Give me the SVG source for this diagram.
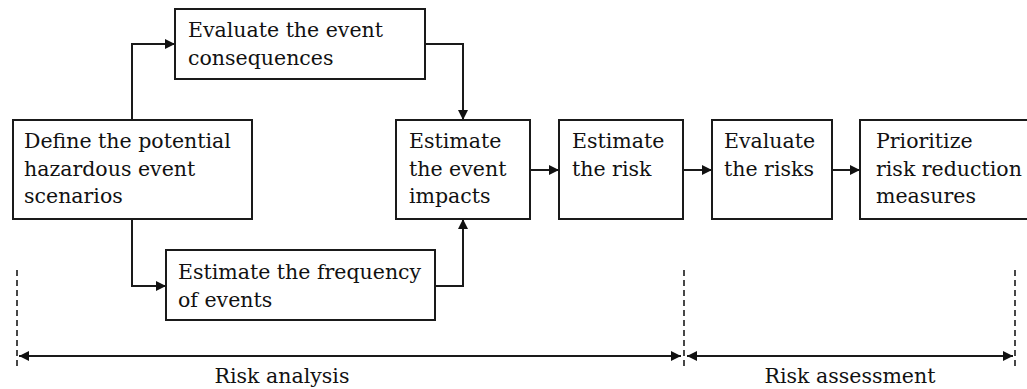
<svg xmlns="http://www.w3.org/2000/svg" width="1027" height="389" viewBox="0 0 1027 389">
<defs>
<marker id="ah" viewBox="0 0 10 10" refX="10" refY="5" markerWidth="11" markerHeight="10" markerUnits="userSpaceOnUse" orient="auto-start-reverse">
<path d="M0,0 L10,5 L0,10 Z" fill="#111"/>
</marker>
<style>
.box{fill:#fff;stroke:#1a1a1a;stroke-width:2}
.t{font-family:"DejaVu Serif","Liberation Serif",serif;font-size:20.5px;fill:#111}
.c{fill:none;stroke:#1a1a1a;stroke-width:2}
.d{fill:none;stroke:#1a1a1a;stroke-width:1.6;stroke-dasharray:6,4}
</style>
</defs>
<rect width="1027" height="389" fill="#fff"/>
<g id="connectors">
<path class="c" d="M132,120 V44 H175" marker-end="url(#ah)"/>
<path class="c" d="M425,44 H463 V120" marker-end="url(#ah)"/>
<path class="c" d="M132,219 V286 H166" marker-end="url(#ah)"/>
<path class="c" d="M435,286 H463 V219" marker-end="url(#ah)"/>
<path class="c" d="M530,170 H559" marker-end="url(#ah)"/>
<path class="c" d="M683,170 H712" marker-end="url(#ah)"/>
<path class="c" d="M832,170 H860" marker-end="url(#ah)"/>
<path class="d" d="M17,270 V368"/>
<path class="d" d="M684,270 V368"/>
<path class="d" d="M1015,270 V368"/>
<path class="c" d="M19,356 H681" marker-start="url(#ah)" marker-end="url(#ah)"/>
<path class="c" d="M687,356 H1013" marker-start="url(#ah)" marker-end="url(#ah)"/>
</g>
<g id="n1"><rect class="box" x="13" y="120" width="239" height="99"/>
<text class="t" x="24" y="148">Define the potential</text>
<text class="t" x="24" y="176">hazardous event</text>
<text class="t" x="24" y="203">scenarios</text></g>
<g id="n2"><rect class="box" x="175" y="9" width="250" height="70"/>
<text class="t" x="188" y="37">Evaluate the event</text>
<text class="t" x="188" y="65">consequences</text></g>
<g id="n3"><rect class="box" x="166" y="250" width="269" height="70"/>
<text class="t" x="178" y="279">Estimate the frequency</text>
<text class="t" x="178" y="307">of events</text></g>
<g id="n4"><rect class="box" x="396" y="120" width="134" height="99"/>
<text class="t" x="409" y="148">Estimate</text>
<text class="t" x="409" y="176">the event</text>
<text class="t" x="409" y="203">impacts</text></g>
<g id="n5"><rect class="box" x="559" y="120" width="124" height="99"/>
<text class="t" x="572" y="148">Estimate</text>
<text class="t" x="572" y="176">the risk</text></g>
<g id="n6"><rect class="box" x="712" y="120" width="120" height="99"/>
<text class="t" x="724" y="148">Evaluate</text>
<text class="t" x="724" y="176">the risks</text></g>
<g id="n7"><rect class="box" x="860" y="120" width="180" height="99"/>
<text class="t" x="876" y="148">Prioritize</text>
<text class="t" x="876" y="176">risk reduction</text>
<text class="t" x="876" y="203">measures</text></g>
<g id="labels">
<text class="t" x="282" y="383" text-anchor="middle">Risk analysis</text>
<text class="t" x="850" y="383" text-anchor="middle">Risk assessment</text>
</g>
</svg>
